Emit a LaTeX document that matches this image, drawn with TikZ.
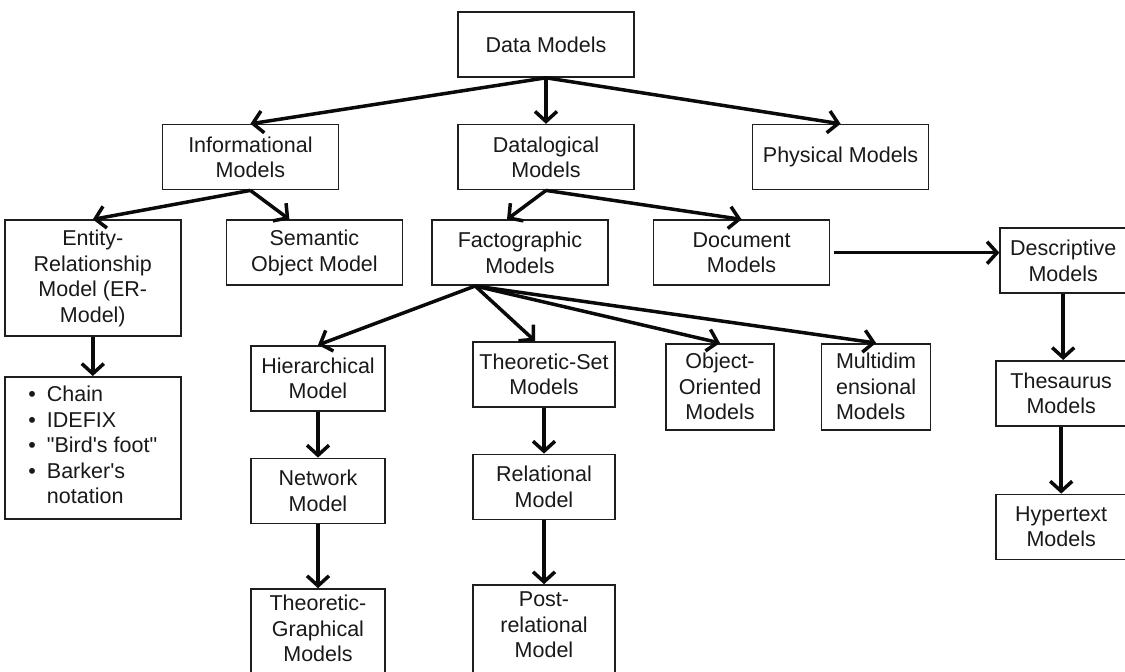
\documentclass[tikz,border=0pt]{standalone}
\usepackage{fontspec}
\newfontfamily\mdlfont{Liberation Sans}
\usetikzlibrary{arrows.meta,positioning}
\definecolor{boxbdr}{RGB}{30,30,30}
\definecolor{arrowclr}{RGB}{10,10,10}
\definecolor{hdrclr}{RGB}{25,25,25}
\tikzset{
  mdl/.style={rectangle,draw=boxbdr,fill=white,line width=1.6pt,
    minimum width=176pt,minimum height=65pt,inner sep=4pt,
    font=\mdlfont\fontsize{21.5}{25.5}\selectfont,align=center,text=hdrclr},
  arr/.style={-{Straight Barb[length=10pt,width=22pt]},line width=3.5pt,color=arrowclr},
}
\begin{document}
\begin{tikzpicture}[x=1pt,y=-1pt]

  \clip (0,0) rectangle (1125,672);

  \node[mdl] (data) at (546,44.5) {Data Models};
  \node[mdl,below=46pt of data]  (datal) {Datalogical\\Models};
  \node[mdl,left=118pt of datal] (info)  {Informational\\Models};
  \node[mdl,right=117pt of datal] (phys) {Physical Models};
  \node[mdl,below=29pt of datal,xshift=-26pt] (facto) {Factographic\\Models};
  \node[mdl,left=28pt of facto]  (sem)   {Semantic\\Object Model};
  \node[mdl,right=44pt of facto] (doc)   {Document\\Models};
  \node[mdl,minimum height=116pt,left=44pt of sem,yshift=-25.5pt] (er)
    {Entity-\\Relationship\\Model (ER-\\Model)};
  \node[mdl,minimum height=142pt,below=39pt of er] (lst)
    {\begin{tabular}{@{}l@{\hspace{11pt}}l@{}}
      \textbullet & Chain\\
      \textbullet & IDEFIX\\
      \textbullet & "Bird's foot"\\
      \textbullet & Barker's\\
                  & notation
    \end{tabular}};
  \node[mdl,minimum width=126pt,right=169pt of doc,yshift=-8pt] (desc) {Descriptive\\Models};
  \node[mdl,minimum width=130pt,below=66pt of desc,xshift=-2pt] (thes) {Thesaurus\\Models};
  \node[mdl,minimum width=130pt,below=67pt of thes] (hyp) {Hypertext\\Models};

  % factographic branch
  \node[mdl,minimum width=134pt,below=59pt of facto,xshift=-202pt] (hier) {Hierarchical\\Model};
  \node[mdl,minimum width=134pt,below=46pt of hier] (net) {Network\\Model};
  \node[mdl,minimum width=134pt,text depth=92pt,inner ysep=6pt,below=64pt of net] (tg)
    {Theoretic-\\Graphical\\Models};
  \node[mdl,minimum width=142pt,below=55pt of facto,xshift=24pt] (ts) {Theoretic-Set\\Models};
  \node[mdl,minimum width=142pt,below=46pt of ts] (rel) {Relational\\Model};
  \node[mdl,minimum width=142pt,text depth=92pt,inner ysep=7pt,below=64pt of rel] (post)
    {Post-\\relational\\Model};
  \node[mdl,minimum width=108pt,minimum height=86pt,below=57pt of facto,xshift=200pt] (oo)
    {Object-\\Oriented\\Models};
  \node[mdl,minimum width=109pt,minimum height=86pt,align=left,right=46pt of oo] (multi)
    {Multidim\\ensional\\Models};

  \draw[arr] (data) -- (datal);
  \draw[arr] (data.south) -- (info.north);
  \draw[arr] (data.south) -- (phys.north);
  \draw[arr] (info.south) -- (er.north);
  \draw[arr] (info.south) -- ([xshift=-25pt]sem.north);
  \draw[arr] (datal.south) -- ([xshift=-13pt]facto.north);
  \draw[arr] (datal.south) -- (doc.north);
  \draw[arr] ([xshift=4pt]doc.east) -- (doc.east -| desc.west);
  \draw[arr] (er) -- (lst);
  \draw[arr] ([xshift=44pt]facto.south west) -- (hier.north);
  \draw[arr] ([xshift=44pt]facto.south west) -- ([xshift=-9pt]ts.north);
  \draw[arr] ([xshift=44pt]facto.south west) -- (oo.north);
  \draw[arr] ([xshift=44pt]facto.south west) -- (multi.north);
  \draw[arr] (hier) -- (net);
  \draw[arr] (net) -- (tg);
  \draw[arr] (ts) -- (rel);
  \draw[arr] (rel) -- (post);
  \draw[arr] (desc.south) -- (desc.south |- thes.north);
  \draw[arr] (thes) -- (hyp);

\end{tikzpicture}
\end{document}
